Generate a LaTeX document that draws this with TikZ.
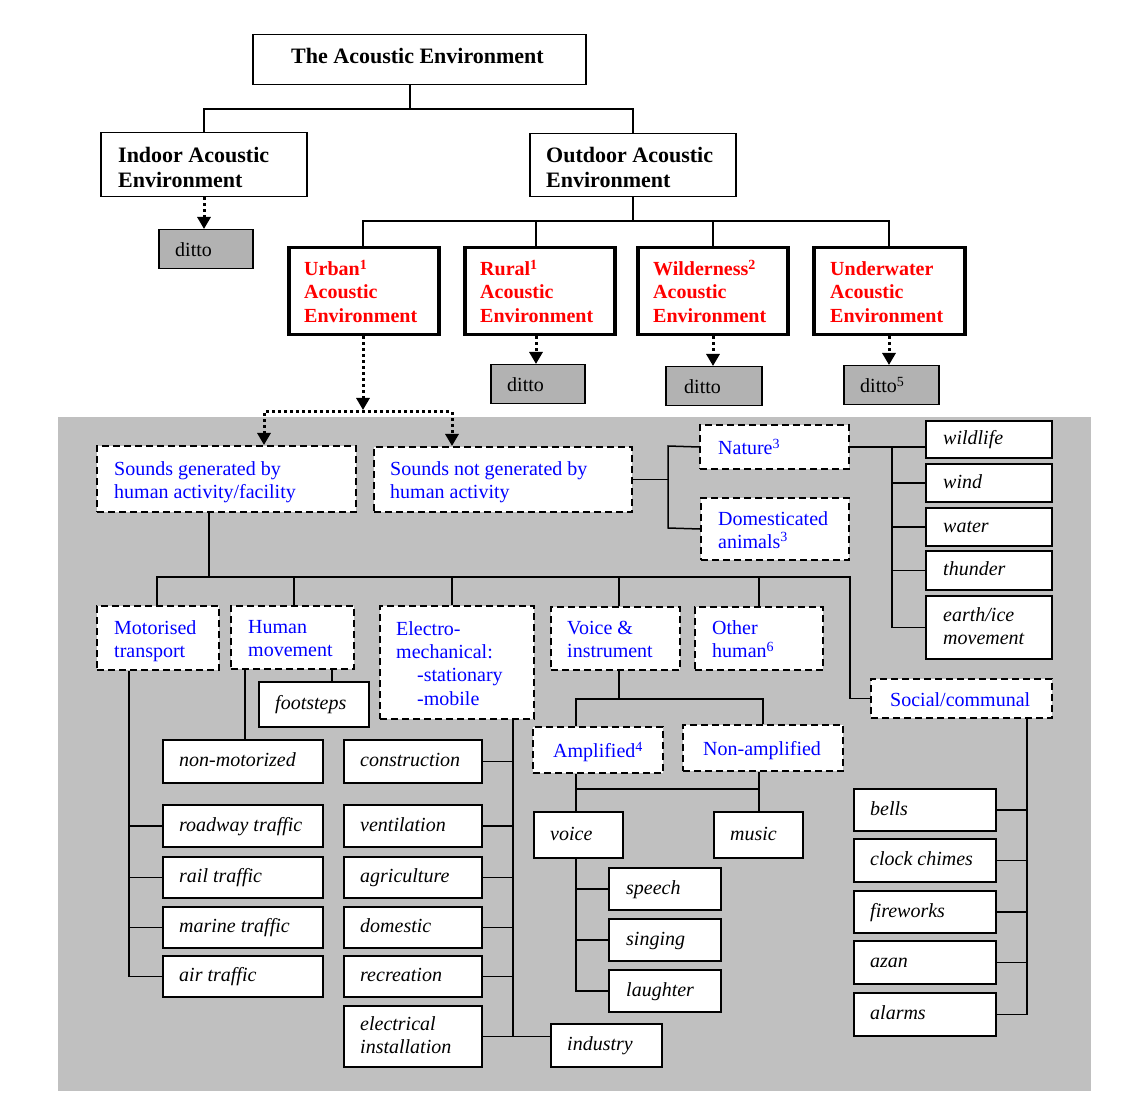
\documentclass[tikz,border=0pt]{standalone}
\usepackage{fontspec}
\setmainfont{Liberation Serif}
\usetikzlibrary{arrows.meta}
\definecolor{bggray}{RGB}{192,192,192}
\definecolor{dittogray}{RGB}{178,178,178}
\newcommand\mysup[1]{\raisebox{6.5pt}{\fontsize{14}{14}\selectfont #1}}
% #1 style, #2 name, #3 x1, #4 y1, #5 x2, #6 y2, #7 text inset, #8 text
\newcommand\mkbox[8]{%
  \pgfmathsetmacro\mkbw{#5-#3}\pgfmathsetmacro\mkbh{#6-#4}%
  \node[#1, anchor=north west, minimum width=\mkbw pt, minimum height=\mkbh pt, inner sep=0pt] (#2) at (#3,#4) {};
  \node[#1 txt, anchor=west, inner sep=0pt] at ([xshift=#7pt]#2.west) {\begin{tabular}{@{}l@{}}#8\end{tabular}};}
\tikzset{
  ln/.style={line width=1.5pt, draw=black},
  ttl/.style={draw, line width=1.5pt, fill=white},
  ttl txt/.style={font=\fontsize{22}{25}\selectfont\bfseries, yshift=1pt},
  hdr/.style={draw, line width=1.5pt, fill=white},
  hdr txt/.style={font=\fontsize{22}{25}\selectfont\bfseries, yshift=-5pt},
  redbox/.style={draw, line width=3.5pt, fill=white},
  redbox txt/.style={font=\fontsize{20}{23.3}\selectfont\bfseries, text=red, yshift=-3pt},
  grbox/.style={draw, line width=1.5pt, fill=dittogray},
  grbox txt/.style={font=\fontsize{20}{23.3}\selectfont, yshift=-3pt},
  dbox/.style={draw, line width=2pt, dash pattern=on 7pt off 4pt, fill=white},
  dbox txt/.style={font=\fontsize{20}{23.3}\selectfont, text=blue, yshift=-3pt},
  ibox/.style={draw, line width=1.6pt, fill=white},
  ibox txt/.style={font=\fontsize{20}{23}\selectfont\itshape, yshift=-1pt},
  dotarr/.style={line width=3pt, dash pattern=on 3pt off 3pt, -{Triangle[width=13pt,length=12pt]}},
  dotarrb/.style={line width=3pt, dash pattern=on 3pt off 3pt, {Triangle[width=13pt,length=12pt]}-{Triangle[width=13pt,length=12pt]}},
}
\begin{document}
\begin{tikzpicture}[x=1pt,y=-1pt]
\useasboundingbox (0,0) rectangle (1128,1107);
\fill[bggray] (58,417) rectangle (1091,1091);

% upper tree
\mkbox{ttl}{top}{252}{34}{585}{84}{39}{The Acoustic Environment}
\mkbox{hdr}{indoor}{100}{132}{306}{196}{18}{Indoor Acoustic\\Environment}
\mkbox{hdr}{outdoor}{529}{133}{735}{196}{17}{Outdoor Acoustic\\Environment}
\mkbox{grbox}{dIndoor}{158}{229}{252}{268}{17}{ditto}
\mkbox{redbox}{urban}{287}{246}{437}{333}{17}{Urban\mysup{1}\\Acoustic\\Environment}
\mkbox{redbox}{rural}{463}{246}{613}{333}{17}{Rural\mysup{1}\\Acoustic\\Environment}
\mkbox{redbox}{wild}{636}{246}{786}{333}{17}{Wilderness\mysup{2}\\Acoustic\\Environment}
\mkbox{redbox}{under}{812}{246}{963}{333}{18}{Underwater\\Acoustic\\Environment}
\mkbox{grbox}{dRural}{490}{364}{584}{403}{17}{ditto}
\mkbox{grbox}{dWild}{665}{366}{761}{405}{19}{ditto}
\mkbox{grbox}{dUnder}{843}{365}{938}{404}{17}{ditto\mysup{5}}

% lower area
\mkbox{dbox}{sg}{96}{445}{355}{511}{18}{Sounds generated by\\human activity/facility}
\mkbox{dbox}{sng}{373}{446}{631}{511}{17}{Sounds not generated by\\human activity}
\mkbox{dbox}{nature}{699}{424}{848}{468}{19}{Nature\mysup{3}}
\mkbox{dbox}{domest}{700}{497}{848}{559}{18}{Domesticated\\animals\mysup{3}}
\mkbox{ibox}{wildlife}{925}{420}{1051}{457}{18}{wildlife}
\mkbox{ibox}{wind}{925}{463}{1051}{501}{18}{wind}
\mkbox{ibox}{water}{925}{507}{1051}{545}{18}{water}
\mkbox{ibox}{thunder}{925}{550}{1051}{589}{18}{thunder}
\mkbox{ibox}{earth}{925}{595}{1051}{658}{18}{earth/ice\\movement}

\mkbox{dbox}{motor}{96}{605}{218}{669}{18}{Motorised\\transport}
\mkbox{dbox}{human}{230}{605}{353}{668}{18}{Human\\movement}
\mkbox{dbox}{electro}{379}{605}{533}{718}{17}{Electro-\\mechanical:\\\hspace*{21pt}-stationary\\\hspace*{21pt}-mobile}
\mkbox{dbox}{voiceinst}{550}{606}{679}{669}{17}{Voice \&\\instrument}
\mkbox{dbox}{other}{694}{606}{822}{669}{18}{Other\\human\mysup{6}}
\mkbox{dbox}{social}{870}{678}{1051}{717}{20}{Social/communal}

\mkbox{ibox}{footsteps}{258}{681}{368}{726}{17}{footsteps}
\mkbox{ibox}{nonmot}{162}{739}{322}{782}{17}{non-motorized}
\mkbox{ibox}{roadway}{162}{804}{322}{846}{17}{roadway traffic}
\mkbox{ibox}{rail}{162}{856}{322}{897}{17}{rail traffic}
\mkbox{ibox}{marine}{162}{906}{322}{947}{17}{marine traffic}
\mkbox{ibox}{air}{162}{955}{322}{996}{17}{air traffic}

\mkbox{ibox}{construction}{343}{739}{481}{782}{17}{construction}
\mkbox{ibox}{ventilation}{343}{804}{481}{846}{17}{ventilation}
\mkbox{ibox}{agriculture}{343}{856}{481}{897}{17}{agriculture}
\mkbox{ibox}{domestic}{343}{906}{481}{947}{17}{domestic}
\mkbox{ibox}{recreation}{343}{955}{481}{996}{17}{recreation}
\mkbox{ibox}{electrical}{343}{1005}{481}{1066}{17}{electrical\\installation}
\mkbox{ibox}{industry}{550}{1023}{661}{1066}{17}{industry}

\mkbox{dbox}{amplified}{532}{726}{662}{772}{21}{Amplified\mysup{4}}
\mkbox{dbox}{nonamp}{682}{724}{842}{770}{21}{Non-amplified}
\mkbox{ibox}{voice}{533}{811}{622}{857}{17}{voice}
\mkbox{ibox}{music}{713}{811}{802}{857}{17}{music}
\mkbox{ibox}{speech}{608}{867}{720}{909}{18}{speech}
\mkbox{ibox}{singing}{608}{918}{720}{960}{18}{singing}
\mkbox{ibox}{laughter}{608}{969}{720}{1011}{18}{laughter}

\mkbox{ibox}{bells}{853}{788}{995}{830}{17}{bells}
\mkbox{ibox}{chimes}{853}{838}{995}{881}{17}{clock chimes}
\mkbox{ibox}{fireworks}{853}{890}{995}{932}{17}{fireworks}
\mkbox{ibox}{azan}{853}{940}{995}{983}{17}{azan}
\mkbox{ibox}{alarms}{853}{992}{995}{1035}{17}{alarms}

% connectors upper
\draw[ln] (top.south -| 410,0) -- (410,109);
\draw[ln] (indoor.north -| 204,0) |- (410,109) -| (outdoor.north -| 633,0);
\draw[ln] (outdoor.south -| 633,0) -- (633,221);
\draw[ln] (urban.north -| 363,0) |- (889,221) -- (under.north -| 889,0);
\draw[ln] (rural.north -| 536,0) -- (536,221);
\draw[ln] (wild.north -| 713,0) -- (713,221);
\draw[dotarr] (indoor.south -| 204,0) -- (dIndoor.north -| 204,0);
\draw[dotarr] (rural.south -| 536,0) -- (dRural.north -| 536,0);
\draw[dotarr] (wild.south -| 713,0) -- (dWild.north -| 713,0);
\draw[dotarr] (under.south -| 889,0) -- (dUnder.north -| 889,0);
\draw[dotarr] (urban.south -| 363,0) -- (363,410);
\draw[dotarrb] (sg.north -| 264,0) |- (452,412) -- (sng.north -| 452,0);

% connectors lower
\draw[ln] (sg.south -| 209,0) -- (209,577);
\draw[ln] (motor.north -| 157,0) |- (850,577) |- (social.west);
\foreach \n/\x in {human/294, electro/452, voiceinst/619, other/759}
  \draw[ln] (\n.north -| \x,0) -- (\x,577);
\draw[ln] (sng.east) -- (sng.east -| 668,0);
\draw[ln] (nature.west) -- (668,446) -- (668,528) -- (domest.west);
\draw[ln] (nature.east) -- (wildlife.west |- nature.east);
\draw[ln] (nature.east -| 892,0) |- (earth.west);
\foreach \n in {wind,water,thunder} \draw[ln] (\n.west) -- (\n.west -| 892,0);

\draw[ln] (motor.south -| 129,0) |- (air.west);
\foreach \n in {roadway,rail,marine} \draw[ln] (\n.west) -- (\n.west -| 129,0);
\draw[ln] (human.south -| 245,0) -- (nonmot.north -| 245,0);
\draw[ln] (human.south -| 332,0) -- (footsteps.north -| 332,0);
\draw[ln] (electro.south -| 513,0) -- (electrical.east -| 513,0);
\foreach \n in {construction,ventilation,agriculture,domestic,recreation} \draw[ln] (\n.east) -- (\n.east -| 513,0);
\draw[ln] (electrical.east) -- (industry.west |- electrical.east);

\draw[ln] (voiceinst.south -| 619,0) -- (619,699);
\draw[ln] (amplified.north -| 576,0) |- (763,699) -- (nonamp.north -| 763,0);
\draw[ln] (amplified.south -| 576,0) -- (voice.north -| 576,0);
\draw[ln] (nonamp.south -| 759,0) -- (music.north -| 759,0);
\draw[ln] (576,789) -- (759,789);
\draw[ln] (voice.south -| 576,0) |- (laughter.west);
\foreach \n in {speech,singing} \draw[ln] (\n.west) -- (\n.west -| 576,0);

\draw[ln] (social.south -| 1027,0) |- (alarms.east);
\foreach \n in {bells,chimes,fireworks,azan} \draw[ln] (\n.east) -- (\n.east -| 1027,0);
\end{tikzpicture}
\end{document}
